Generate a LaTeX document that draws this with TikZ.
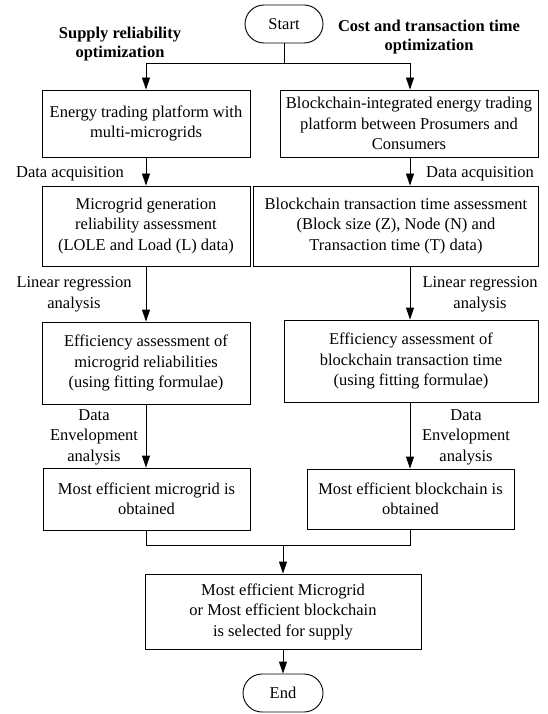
\documentclass[tikz,border=0pt]{standalone}
\usepackage{fontspec}
\setmainfont{Liberation Serif}
\usetikzlibrary{arrows.meta}
\begin{document}
\begin{tikzpicture}[x=1pt,y=-1pt,
  txt/.style={font=\fontsize{16.5}{20.5}\selectfont},
  box/.style={draw, line width=0.9pt, align=center, inner sep=0pt, txt},
  term/.style={draw, line width=0.9pt, rounded corners=19pt, minimum width=78pt, minimum height=38pt, inner sep=0pt, txt},
  lbl/.style={align=center, inner sep=0pt, txt},
  ttl/.style={align=center, inner sep=0pt, font=\fontsize{16.5}{19.5}\selectfont\bfseries},
  arr/.style={line width=0.9pt, -{Triangle[length=12pt,width=8pt]}},
  ln/.style={line width=0.9pt}]
\useasboundingbox (0,0) rectangle (547,714);

% terminals
\node[term] (start) at (284,24) {Start};
\node[term, minimum width=80pt] (end) at (283,693) {End};

% titles
\node[ttl] (t1) at (120,44) {Supply reliability\\optimization};
\node[ttl] (t2) at (429,37) {Cost and transaction time\\optimization};

% left column
\node[box, minimum width=208pt, minimum height=67pt] (L1) at (146,123.5) {Energy trading platform with\\multi-microgrids};
\node[box, minimum width=208pt, minimum height=80pt] (L2) at (146,226) {Microgrid generation\\reliability assessment\\(LOLE and Load (L) data)};
\node[box, minimum width=208pt, minimum height=82pt] (L3) at (146,363) {Efficiency assessment of\\microgrid reliabilities\\(using fitting formulae)};
\node[box, minimum width=207pt, minimum height=62pt] (L4) at (146.5,499) {Most efficient microgrid is\\obtained};

% right column
\node[box, minimum width=258pt, minimum height=67pt] (R1) at (409,123.5) {Blockchain-integrated energy trading\\platform between Prosumers and\\Consumers};
\node[box, minimum width=285pt, minimum height=80pt] (R2) at (396,226) {Blockchain transaction time assessment\\(Block size (Z), Node (N) and\\Transaction time (T) data)};
\node[box, minimum width=254pt, minimum height=82pt] (R3) at (411,361) {Efficiency assessment of\\blockchain transaction time\\(using fitting formulae)};
\node[box, minimum width=207pt, minimum height=60pt] (R4) at (410.5,499) {Most efficient blockchain is\\obtained};

% final
\node[box, minimum width=276pt, minimum height=75pt] (F) at (283,611.5) {Most efficient Microgrid\\or Most efficient blockchain\\is selected for supply};

% labels
\node[lbl] (da1) at (70,174) {Data acquisition};
\node[lbl] (da2) at (480,174) {Data acquisition};
\node[lbl] (lr1) at (74,294.5) {Linear regression\\analysis};
\node[lbl] (lr2) at (480,294.5) {Linear regression\\analysis};
\node[lbl] (de1) at (94,437) {Data\\Envelopment\\analysis};
\node[lbl] (de2) at (466,437) {Data\\Envelopment\\analysis};

% helper coordinates
\coordinate (split) at (284,63);
\coordinate (sl) at (146,63);
\coordinate (sr) at (410,63);
\coordinate (ml) at (146,545);
\coordinate (mr) at (410,545);
\coordinate (mm) at (283,545);

% connectors
\draw[ln] (start.south) -- (split);
\draw[ln] (sl) -- (sr);
\draw[arr] (sl) -- (L1.north -| sl);
\draw[arr] (sr) -- (R1.north -| sr);
\draw[arr] (L1.south -| sl) -- (L2.north -| sl);
\draw[arr] (L2.south -| sl) -- (L3.north -| sl);
\draw[arr] (L3.south -| sl) -- (L4.north -| sl);
\draw[arr] (R1.south -| sr) -- (R2.north -| sr);
\draw[arr] (R2.south -| sr) -- (R3.north -| sr);
\draw[arr] (R3.south -| sr) -- (R4.north -| sr);
\draw[ln] (L4.south -| ml) -- (ml) -- (mr) -- (R4.south -| mr);
\draw[arr] (mm) -- (F.north -| mm);
\draw[arr] (F.south -| mm) -- (end.north -| mm);
\end{tikzpicture}
\end{document}
